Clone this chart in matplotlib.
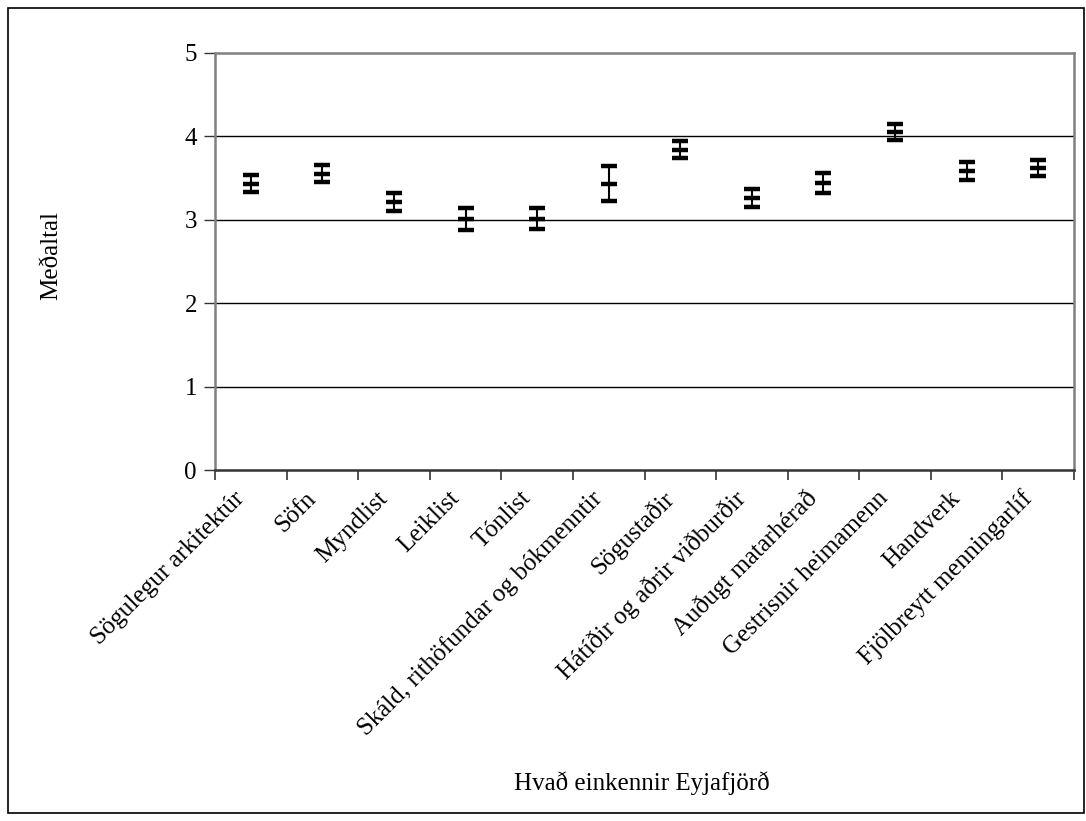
import numpy as np
import matplotlib.pyplot as plt
import matplotlib.transforms as mtransforms
from matplotlib.patches import Rectangle

# Flokkar og meðaltöl með vikmörkum
categories = ["Sögulegur arkitektúr", "Söfn", "Myndlist", "Leiklist", "Tónlist",
              "Skáld, rithöfundar og bókmenntir", "Sögustaðir",
              "Hátíðir og aðrir viðburðir", "Auðugt matarhérað",
              "Gestrisnir heimamenn", "Handverk", "Fjölbreytt menningarlíf"]
means = [3.43, 3.55, 3.21, 3.01, 3.01, 3.43, 3.84, 3.26, 3.44, 4.05, 3.58, 3.62]
errors = [0.10, 0.10, 0.11, 0.13, 0.125, 0.21, 0.10, 0.11, 0.12, 0.10, 0.11, 0.10]
yticks = [0, 1, 2, 3, 4, 5]

plt.rcParams['font.family'] = ['Liberation Serif', 'DejaVu Serif']
fs = 18

fig = plt.figure(figsize=(10.86, 8.21), dpi=100)
ax = fig.add_axes([215/1086, 1 - 470/821, (1074 - 215)/1086, (470 - 52.7)/821])

x = np.arange(len(categories))

# gridlines at each whole number
for v in yticks[1:-1]:
    ax.axhline(v, color='black', linewidth=1.0, zorder=1)

ax.errorbar(x, means, yerr=errors, fmt='_', color='black',
            markersize=11.5, markeredgewidth=3.2,
            elinewidth=1.5, capsize=5.8, capthick=1.5, zorder=3)

ax.set_xlim(-0.5, len(categories) - 0.5)
ax.set_ylim(0, 5)
ax.set_yticks(yticks)
ax.set_xticks(x)
ax.set_xticklabels(categories, rotation=45, ha='right', va='center',
                   rotation_mode='anchor', fontsize=fs)
ax.tick_params(axis='x', which='major', length=0, pad=18)
# nudge labels a little to the left, as in the original
shift = mtransforms.ScaledTranslation(-10/100, 0, fig.dpi_scale_trans)
for lbl in ax.get_xticklabels():
    lbl.set_transform(lbl.get_transform() + shift)
ax.set_xticks(np.arange(-0.5, len(categories)), minor=True)
ax.tick_params(axis='x', which='minor', length=7, width=1.2, color='#333333',
               direction='out')
ax.tick_params(axis='y', length=8, width=1.0, color='#333333', direction='out',
               labelsize=fs, pad=5)

for side in ['top', 'right', 'left']:
    ax.spines[side].set_color('#808080')
    ax.spines[side].set_linewidth(1.8)
ax.spines['bottom'].set_color('#333333')
ax.spines['bottom'].set_linewidth(1.8)

fig.text(51/1086, 1 - 255/821, "Meðaltal", rotation=90, fontsize=fs,
         ha='center', va='center')
fig.text(642/1086, 1 - 783/821, "Hvað einkennir Eyjafjörð", fontsize=fs,
         ha='center', va='center')

# outer frame of the chart
fig.patches.append(Rectangle((8/1086, 1 - 813/821), (1084 - 8)/1086, (813 - 8)/821,
                             transform=fig.transFigure, fill=False,
                             edgecolor='black', linewidth=1.2))

fig.savefig('out.png', dpi=100)
